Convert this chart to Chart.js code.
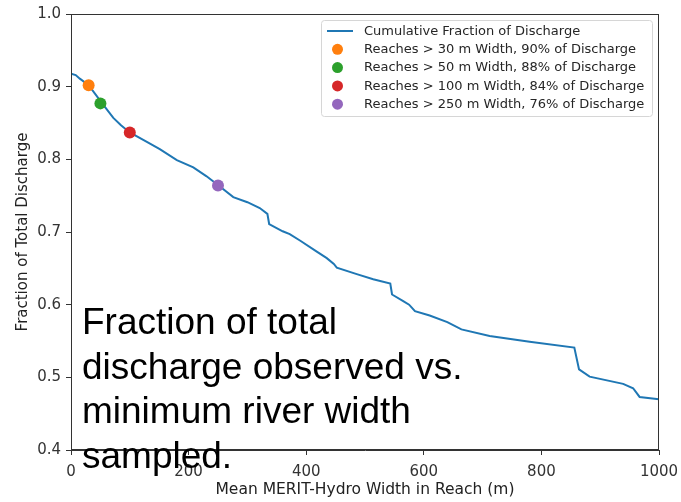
<!DOCTYPE html>
<html>
<head>
<meta charset="utf-8">
<script src="https://cdn.jsdelivr.net/npm/chart.js@4"></script>
<style>
  html, body { margin: 0; padding: 0; background: #fff; }
  #wrap { position: relative; width: 681px; height: 502px; }
  #note { position: absolute; left: 82px; top: 300px; font-family: 'Liberation Sans', Arial, sans-serif;
          font-size: 37px; line-height: 44.5px; color: #000; white-space: nowrap; pointer-events: none; }
</style>
</head>
<body>
<div id="wrap">
  <canvas id="c" width="681" height="502"></canvas>
  <div id="note">Fraction of total<br>discharge observed vs.<br>minimum river width<br>sampled.</div>
</div>
<script>
// ---- data ----
const seriesLabel = 'Cumulative Fraction of Discharge';
const widths = [0, 8, 15, 30, 42, 53, 72, 85, 100, 129, 151, 180, 208, 230, 251, 276, 300, 321, 334, 337,
  360, 372, 390, 418, 435, 447, 452, 486, 514, 543, 546, 565, 575, 585, 610, 640, 664, 712, 780, 856,
  864, 882, 939, 956, 967, 1000];
const fractions = [0.918, 0.916, 0.911, 0.902, 0.889, 0.877, 0.857, 0.847, 0.837, 0.824, 0.814, 0.799,
  0.789, 0.777, 0.764, 0.748, 0.741, 0.733, 0.725, 0.711, 0.701, 0.697, 0.688, 0.673, 0.664, 0.656,
  0.651, 0.642, 0.635, 0.629, 0.614, 0.605, 0.600, 0.591, 0.585, 0.576, 0.566, 0.557, 0.549, 0.541,
  0.511, 0.501, 0.491, 0.485, 0.473, 0.470];
const markerWidths = [30, 50, 100, 250];
const markerFractions = [0.902, 0.877, 0.837, 0.764];
const markerLabels = [
  'Reaches > 30 m Width, 90% of Discharge',
  'Reaches > 50 m Width, 88% of Discharge',
  'Reaches > 100 m Width, 84% of Discharge',
  'Reaches > 250 m Width, 76% of Discharge'
];
const markerColors = ['#ff7f0e', '#2ca02c', '#d62728', '#9467bd'];
const xTickValues = [0, 200, 400, 600, 800, 1000];
const yTickValues = [0.4, 0.5, 0.6, 0.7, 0.8, 0.9, 1.0];
const xTitle = 'Mean MERIT-Hydro Width in Reach (m)';
const yTitle = 'Fraction of Total Discharge';

const FONT = "'DejaVu Sans', sans-serif";
const lineData = widths.map((w, i) => ({ x: w, y: fractions[i] }));

const datasets = [{
  type: 'line', label: seriesLabel, data: lineData, borderColor: '#1f77b4',
  backgroundColor: '#1f77b4', borderWidth: 2, pointRadius: 0, tension: 0, fill: false, order: 2
}];
markerWidths.forEach((w, i) => datasets.push({
  type: 'scatter', label: markerLabels[i], data: [{ x: w, y: markerFractions[i] }],
  backgroundColor: markerColors[i], borderColor: markerColors[i], pointRadius: 6, pointHoverRadius: 6,
  borderWidth: 0, showLine: false, order: 1
}));

const framePlugin = {
  id: 'frame',
  afterDatasetsDraw(chart) {
    const { ctx, chartArea: a } = chart;
    ctx.save();
    ctx.strokeStyle = '#333';
    ctx.lineWidth = 1;
    ctx.strokeRect(Math.round(a.left) + 0.5, Math.round(a.top) + 0.5,
      Math.round(a.right - a.left) - 1, Math.round(a.bottom - a.top) - 1);
    ctx.restore();
  }
};

const legendPlugin = {
  id: 'mplLegend',
  afterDraw(chart) {
    const { ctx } = chart;
    const ds = chart.data.datasets;
    const x0 = 321.5, y0 = 20.5, w = 331, h = 96, r = 3;
    ctx.save();
    ctx.beginPath();
    ctx.moveTo(x0 + r, y0);
    ctx.arcTo(x0 + w, y0, x0 + w, y0 + h, r);
    ctx.arcTo(x0 + w, y0 + h, x0, y0 + h, r);
    ctx.arcTo(x0, y0 + h, x0, y0, r);
    ctx.arcTo(x0, y0, x0 + w, y0, r);
    ctx.closePath();
    ctx.fillStyle = 'rgba(255,255,255,0.85)';
    ctx.fill();
    ctx.strokeStyle = '#d6d6d6';
    ctx.lineWidth = 1;
    ctx.stroke();
    ctx.font = '13px ' + FONT;
    ctx.textBaseline = 'middle';
    ctx.textAlign = 'left';
    ds.forEach((d, i) => {
      const cy = 31 + i * 18.3;
      if (d.type === 'line') {
        ctx.strokeStyle = d.borderColor;
        ctx.lineWidth = 2;
        ctx.beginPath();
        ctx.moveTo(327, cy);
        ctx.lineTo(353, cy);
        ctx.stroke();
      } else {
        ctx.fillStyle = d.backgroundColor;
        ctx.beginPath();
        ctx.arc(337.5, cy, 5.5, 0, Math.PI * 2);
        ctx.fill();
      }
      ctx.fillStyle = '#262626';
      ctx.fillText(d.label, 364, cy + 0.5);
    });
    ctx.restore();
  }
};

new Chart(document.getElementById('c'), {
  data: { datasets },
  options: {
    responsive: false,
    animation: false,
    devicePixelRatio: 1,
    layout: { padding: { top: 14, right: 22, left: 0, bottom: 0 } },
    plugins: { legend: { display: false }, tooltip: { enabled: false } },
    scales: {
      x: {
        type: 'linear', min: 0, max: 1000,
        afterBuildTicks: s => { s.ticks = xTickValues.map(v => ({ value: v })); },
        afterFit: s => { s.height = 52; s.paddingLeft = 0; s.paddingRight = 0; },
        grid: { drawOnChartArea: false, drawTicks: true, tickLength: 5, color: '#333' },
        border: { display: true, color: '#333', width: 1 },
        ticks: { color: '#333', font: { family: FONT, size: 15 }, padding: 8, maxRotation: 0,
                 callback: v => String(v) },
        title: { display: true, text: xTitle, color: '#222', font: { family: FONT, size: 15.5 },
                 padding: { top: 0, bottom: 3 } }
      },
      y: {
        type: 'linear', min: 0.4, max: 1.0,
        afterBuildTicks: s => { s.ticks = yTickValues.map(v => ({ value: v })); },
        afterFit: s => { s.width = 71; s.paddingTop = 0; s.paddingBottom = 0; },
        grid: { drawOnChartArea: false, drawTicks: true, tickLength: 5, color: '#333' },
        border: { display: true, color: '#333', width: 1 },
        ticks: { color: '#333', font: { family: FONT, size: 15 }, padding: 5,
                 callback: v => Number(v).toFixed(1) },
        title: { display: true, text: yTitle, color: '#222', font: { family: FONT, size: 15 },
                 padding: { top: 14, bottom: 0 } }
      }
    }
  },
  plugins: [framePlugin, legendPlugin]
});
</script>
</body>
</html>
